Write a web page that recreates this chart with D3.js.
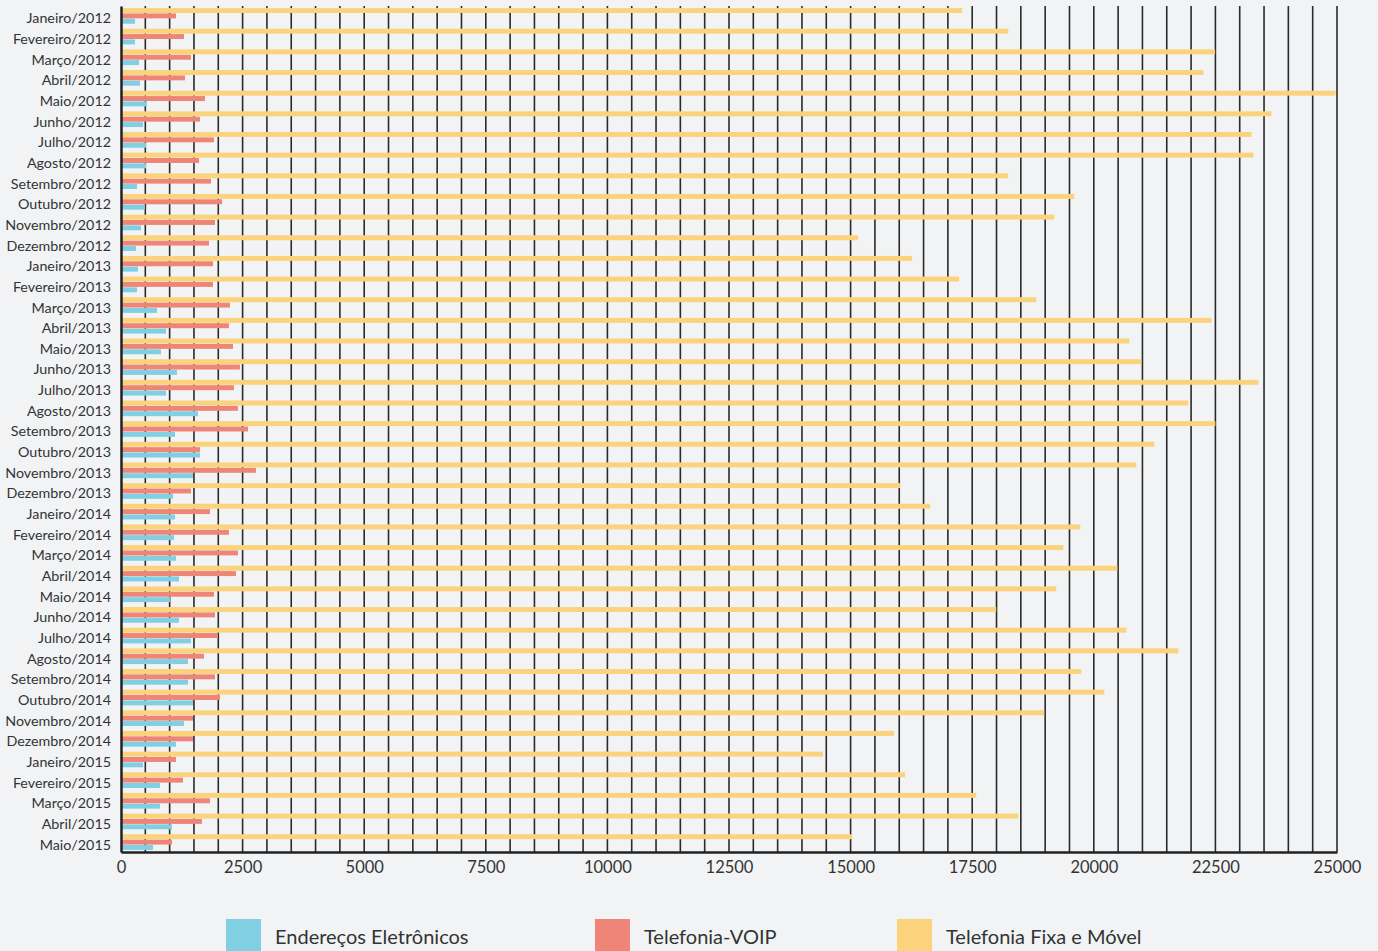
<!DOCTYPE html>
<html>
<head>
<meta charset="utf-8">
<script src="https://cdn.jsdelivr.net/npm/d3@7"></script>
<style>
  html, body { margin: 0; padding: 0; background: #f2f3f5; }
  body { width: 1378px; height: 951px; overflow: hidden; font-family: Lato, "Open Sans", sans-serif; }
  .tick text { fill: #333; }
</style>
</head>
<body>
<div id="chart"></div>
<script>
var months = ["Janeiro/2012","Fevereiro/2012","Março/2012","Abril/2012","Maio/2012","Junho/2012",
  "Julho/2012","Agosto/2012","Setembro/2012","Outubro/2012","Novembro/2012","Dezembro/2012",
  "Janeiro/2013","Fevereiro/2013","Março/2013","Abril/2013","Maio/2013","Junho/2013",
  "Julho/2013","Agosto/2013","Setembro/2013","Outubro/2013","Novembro/2013","Dezembro/2013",
  "Janeiro/2014","Fevereiro/2014","Março/2014","Abril/2014","Maio/2014","Junho/2014",
  "Julho/2014","Agosto/2014","Setembro/2014","Outubro/2014","Novembro/2014","Dezembro/2014",
  "Janeiro/2015","Fevereiro/2015","Março/2015","Abril/2015","Maio/2015"];

var seriesNames = ["Endereços Eletrônicos", "Telefonia-VOIP", "Telefonia Fixa e Móvel"];

var enderecos = [288,288,370,390,534,452,514,514,329,493,411,308,
  349,329,740,925,822,1151,925,1582,1110,1623,1480,1069,
  1110,1089,1130,1192,1007,1192,1438,1377,1377,1480,1295,1130,
  452,801,801,1048,658];

var voip = [1130,1295,1438,1315,1726,1623,1911,1603,1850,2076,1932,1808,
  1891,1891,2240,2219,2302,2445,2322,2404,2610,1623,2774,1438,
  1829,2219,2404,2363,1911,1932,1993,1706,1932,2034,1480,1480,
  1130,1274,1829,1664,1048];

var fixaMovel = [17294,18241,22494,22253,24970,23652,23241,23282,18241,19599,19187,15154,
  16265,17232,18817,22418,20731,20978,23385,21944,22500,21245,20874,16018,
  16636,19722,19372,20484,19228,17994,20669,21739,19743,20216,18981,15895,
  14434,16121,17582,18446,15031];

var xTicks = [0,2500,5000,7500,10000,12500,15000,17500,20000,22500,25000];

var colors = {
  "Endereços Eletrônicos": "#81cfe3",
  "Telefonia-VOIP": "#ee8577",
  "Telefonia Fixa e Móvel": "#fbd37d"
};

var width = 1378, height = 951,
    margin = {top: 6, right: 41, bottom: 99, left: 121};

var svg = d3.select("#chart").append("svg")
  .attr("width", width)
  .attr("height", height);

var x = d3.scaleLinear().domain([0, 25000]).range([margin.left, width - margin.right]);
var y = d3.scaleBand().domain(months)
  .range([margin.top, height - margin.bottom])
  .paddingInner(0.24).paddingOuter(0.1);

// bar order inside a group: yellow on top, then red, then blue
var inner = d3.scaleBand()
  .domain(["Telefonia Fixa e Móvel", "Telefonia-VOIP", "Endereços Eletrônicos"])
  .range([0, y.bandwidth()])
  .paddingInner(0.08);

var rows = months.map(function(m, i) {
  return {
    month: m,
    values: [
      {key: "Endereços Eletrônicos", value: enderecos[i]},
      {key: "Telefonia-VOIP", value: voip[i]},
      {key: "Telefonia Fixa e Móvel", value: fixaMovel[i]}
    ]
  };
});

// vertical grid every 500
svg.append("g").selectAll("line")
  .data(d3.range(500, 25001, 500))
  .enter().append("line")
  .attr("x1", function(d) { return x(d); })
  .attr("x2", function(d) { return x(d); })
  .attr("y1", margin.top)
  .attr("y2", height - margin.bottom)
  .style("stroke", "#2a2a2a")
  .style("stroke-width", 1.6);

var groups = svg.append("g").selectAll("g")
  .data(rows)
  .enter().append("g")
  .attr("transform", function(d) { return "translate(0," + y(d.month) + ")"; });

groups.selectAll("rect")
  .data(function(d) { return d.values; })
  .enter().append("rect")
  .attr("x", x(0))
  .attr("y", function(d) { return inner(d.key); })
  .attr("height", inner.bandwidth())
  .attr("width", function(d) { return x(d.value) - x(0); })
  .style("fill", function(d) { return colors[d.key]; });

// axes
var xAxis = svg.append("g")
  .attr("transform", "translate(0," + (height - margin.bottom) + ")")
  .call(d3.axisBottom(x).tickValues(xTicks).tickSize(0).tickPadding(9).tickFormat(d3.format("d")));
xAxis.select(".domain").style("stroke", "#222").style("stroke-width", 2.5);
xAxis.selectAll("text").style("font-size", "16.5px").style("font-family", "Lato, sans-serif");

var yAxis = svg.append("g")
  .attr("transform", "translate(" + margin.left + ",0)")
  .call(d3.axisLeft(y).tickSize(0).tickPadding(10));
yAxis.select(".domain").style("stroke", "#222").style("stroke-width", 2.5);
yAxis.selectAll("text")
  .attr("dy", "0.52em")
  .style("font-size", "14.3px").style("font-family", "Lato, sans-serif");

// legend
var legendX = [226, 595, 897];
var legend = svg.append("g").selectAll("g")
  .data(seriesNames)
  .enter().append("g")
  .attr("transform", function(d, i) { return "translate(" + legendX[i] + ",919)"; });

legend.append("rect")
  .attr("width", 35)
  .attr("height", 35)
  .style("fill", function(d) { return colors[d]; });

legend.append("text")
  .attr("x", 49)
  .attr("y", 25)
  .text(function(d) { return d; })
  .style("font-size", "20px")
  .style("fill", "#333");
</script>
</body>
</html>
